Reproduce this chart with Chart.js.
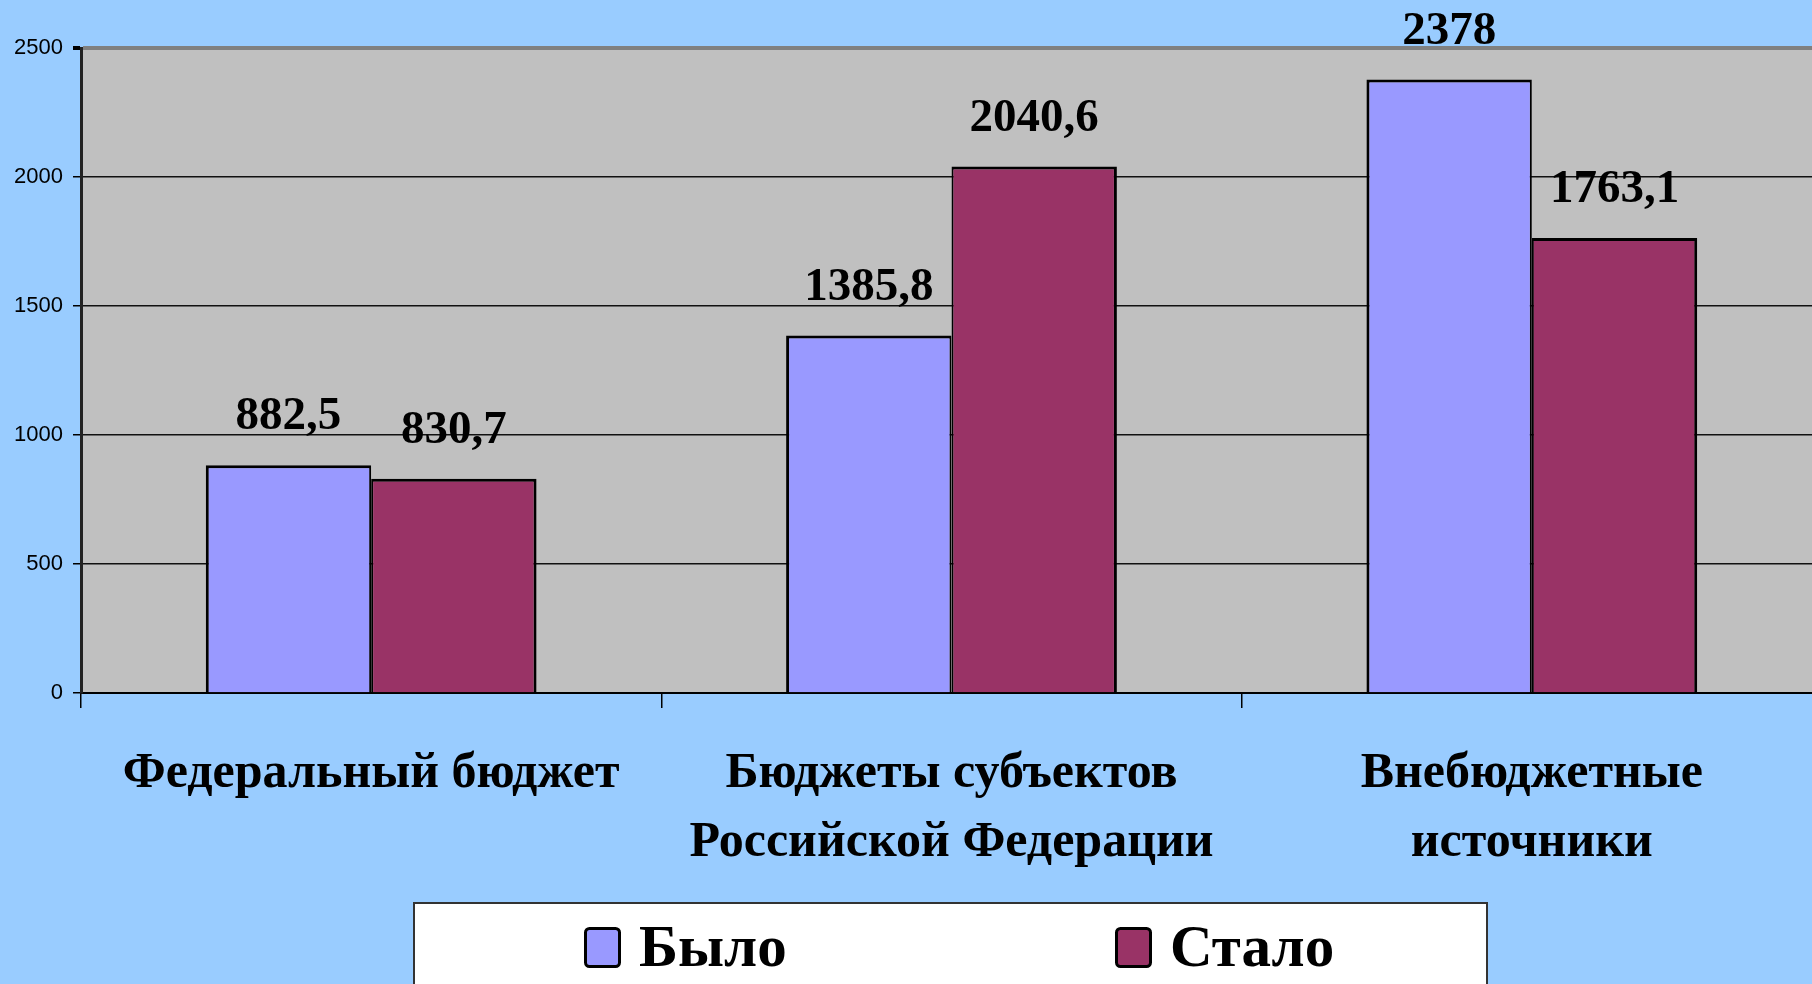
<!DOCTYPE html>
<html>
<head>
<meta charset="utf-8">
<script src="https://cdn.jsdelivr.net/npm/chart.js@4"></script>
<style>
html, body { margin: 0; padding: 0; background: #99ccff; overflow: hidden; }
#wrap { width: 1822px; height: 984px; }
</style>
</head>
<body>
<div id="wrap"><canvas id="myChart" width="1822" height="984"></canvas></div>
<script>
// chart data
const categories = [['Федеральный бюджет'], ['Бюджеты субъектов', 'Российской Федерации'], ['Внебюджетные', 'источники']];
const seriesNames = ['Было', 'Стало'];
const wasValues = [882.5, 1385.8, 2378];
const nowValues = [830.7, 2040.6, 1763.1];
const yTicks = [0, 500, 1000, 1500, 2000, 2500];

const serif = '"Liberation Serif", "Times New Roman", serif';

// grey plot background
const plotBg = {
    id: 'plotBg',
    beforeDraw(chart) {
        const {ctx, chartArea} = chart;
        ctx.save();
        ctx.fillStyle = '#c0c0c0';
        ctx.fillRect(chartArea.left, chartArea.top, chartArea.right - chartArea.left, chartArea.bottom - chartArea.top);
        ctx.restore();
    }
};

// numbers above bars, comma as decimal mark
const valueLabels = {
    id: 'valueLabels',
    afterDatasetsDraw(chart) {
        const ctx = chart.ctx;
        ctx.save();
        ctx.font = 'bold 47px ' + serif;
        ctx.fillStyle = '#000';
        ctx.textAlign = 'center';
        ctx.textBaseline = 'middle';
        chart.data.datasets.forEach((ds, di) => {
            chart.getDatasetMeta(di).data.forEach((bar, i) => {
                ctx.fillText(String(ds.data[i]).replace('.', ','), bar.x, bar.y - 48);
            });
        });
        ctx.restore();
    }
};

// white legend box at the bottom
const legendBox = {
    id: 'legendBox',
    afterDraw(chart) {
        const ctx = chart.ctx;
        ctx.save();
        ctx.fillStyle = '#fff';
        ctx.fillRect(414, 903, 1073, 100);
        ctx.strokeStyle = '#333';
        ctx.lineWidth = 2;
        ctx.strokeRect(414, 903, 1073, 100);
        const itemX = [584, 1115];
        chart.data.datasets.forEach((ds, i) => {
            const x = itemX[i];
            ctx.beginPath();
            ctx.roundRect(x + 1.5, 928.5, 34, 38, 4);
            ctx.fillStyle = ds.backgroundColor;
            ctx.fill();
            ctx.lineWidth = 3;
            ctx.strokeStyle = '#000';
            ctx.stroke();
            ctx.font = 'bold 59px ' + serif;
            ctx.fillStyle = '#000';
            ctx.textAlign = 'left';
            ctx.textBaseline = 'middle';
            ctx.fillText(ds.label, x + 55, 951);
        });
        ctx.restore();
    }
};

const ctx = document.querySelector('#myChart');
const myChart = new Chart(ctx, {
    type: 'bar',
    data: {
        labels: categories,
        datasets: [{
            label: seriesNames[0],
            data: wasValues,
            backgroundColor: '#9999ff',
            borderColor: '#000',
            borderWidth: {top: 3, left: 3, right: 2, bottom: 0}
        }, {
            label: seriesNames[1],
            data: nowValues,
            backgroundColor: '#993366',
            borderColor: '#000',
            borderWidth: {top: 3, left: 2, right: 3, bottom: 0}
        }]
    },
    options: {
        responsive: false,
        animation: false,
        devicePixelRatio: 1,
        layout: { padding: { top: 48, bottom: 81, left: 0, right: 0 } },
        plugins: {
            legend: { display: false },
            tooltip: { enabled: false }
        },
        datasets: {
            bar: { categoryPercentage: 0.57, barPercentage: 1.0 }
        },
        scales: {
            x: {
                afterFit: (scale) => { scale.height = 210; },
                grid: {
                    drawOnChartArea: false,
                    drawTicks: true,
                    tickLength: 15,
                    tickColor: '#000',
                    lineWidth: 1.5
                },
                border: { color: '#000', width: 2 },
                ticks: {
                    color: '#000',
                    padding: 32,
                    font: { family: serif, size: 50, weight: 'bold', lineHeight: 1.38 }
                }
            },
            y: {
                min: yTicks[0],
                max: yTicks[yTicks.length - 1],
                afterFit: (scale) => { scale.width = 81; },
                afterBuildTicks: (scale) => { scale.ticks = yTicks.map(v => ({value: v})); },
                grid: {
                    color: (c) => c.tick && c.tick.value === 2500 ? '#808080' : '#111',
                    lineWidth: (c) => c.tick && c.tick.value === 2500 ? 4 : 1.5,
                    tickLength: 8,
                    tickColor: '#000'
                },
                border: { color: '#222', width: 3 },
                ticks: {
                    color: '#000',
                    padding: 10,
                    callback: (v) => String(v),
                    font: { family: '"Liberation Sans", Arial, sans-serif', size: 22 }
                }
            }
        }
    },
    plugins: [plotBg, valueLabels, legendBox]
});
</script>
</body>
</html>
